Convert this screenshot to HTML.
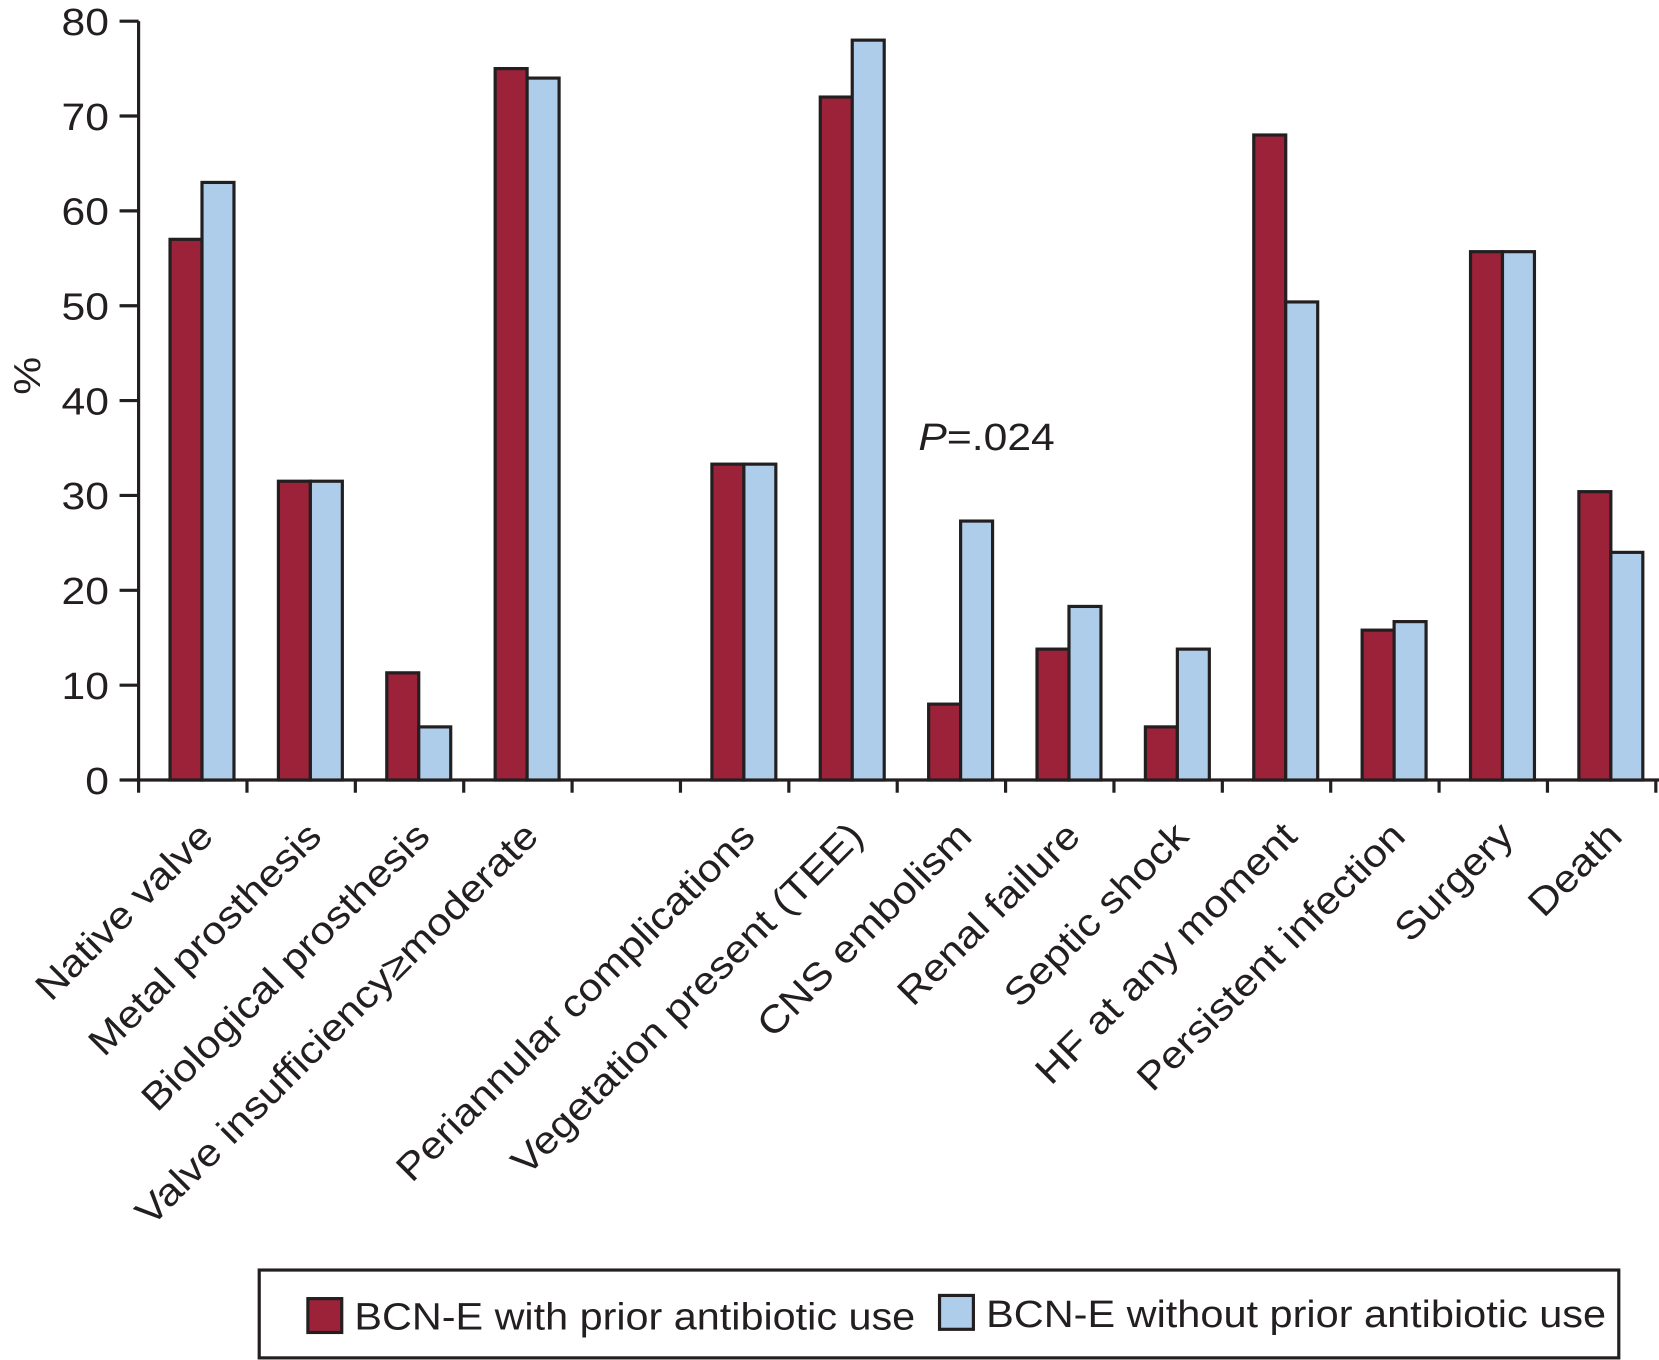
<!DOCTYPE html>
<html><head><meta charset="utf-8"><style>
html,body{margin:0;padding:0;background:#fff}
svg{display:block;font-family:"Liberation Sans",sans-serif}
</style></head><body>
<svg id="chart" width="1659" height="1360" viewBox="0 0 1568 1285" preserveAspectRatio="none" xmlns="http://www.w3.org/2000/svg">
<g id="axes"></g>
<g id="bars"></g>
<g id="xlabels"></g>
<text x="0" y="0" font-size="36" fill="#231f20" text-anchor="middle" transform="translate(38,355) rotate(-90) scale(1.12,1)">%</text>
<text x="0" y="0" font-size="36" fill="#231f20" transform="translate(868,425) scale(1.12,1)"><tspan font-style="italic">P</tspan>=.024</text>
<g>
<rect x="245" y="1200" width="1285" height="83" fill="#fff" stroke="#231f20" stroke-width="3"/>
<rect x="291" y="1227" width="32" height="32" fill="#9b2239" stroke="#231f20" stroke-width="3"/>
<text x="335" y="1256" font-size="36" fill="#231f20" textLength="530" lengthAdjust="spacingAndGlyphs">BCN-E with prior antibiotic use</text>
<rect x="888" y="1224" width="32" height="32" fill="#aecdea" stroke="#231f20" stroke-width="3"/>
<text x="932" y="1254" font-size="36" fill="#231f20" textLength="586" lengthAdjust="spacingAndGlyphs">BCN-E without prior antibiotic use</text>
</g>
</svg>
<script>
const categories = ["Native valve","Metal prosthesis","Biological prosthesis","Valve insufficiency\u2265moderate","","Periannular complications","Vegetation present (TEE)","CNS embolism","Renal failure","Septic shock","HF at any moment","Persistent infection","Surgery","Death"];
const withAbx = [57,31.5,11.3,75,null,33.3,72,8,13.8,5.6,68,15.8,55.7,30.4];
const withoutAbx = [63,31.5,5.6,74,null,33.3,78,27.3,18.3,13.8,50.4,16.7,55.7,24];
const yTicks = [0,10,20,30,40,50,60,70,80];

const NS = "http://www.w3.org/2000/svg";
const X0 = 131, X1 = 1565, Y0 = 737, Y80 = 20;
const step = (X1 - X0) / categories.length;
const yS = v => Y0 - (v / 80) * (Y0 - Y80);
const xS = i => X0 + i * step;
function mk(tag, attrs, parent){ const e=document.createElementNS(NS,tag); for(const k in attrs) e.setAttribute(k,attrs[k]); parent.appendChild(e); return e; }
const axes=document.getElementById('axes'), bars=document.getElementById('bars'), xl=document.getElementById('xlabels');
const stroke="#231f20";
let e = mk('line',{x1:X0,y1:Y80,x2:X0,y2:Y0,stroke:stroke,'stroke-width':3},axes);


e = mk('line',{x1:X0-2,y1:Y0,x2:X1+3,y2:Y0,stroke:stroke,'stroke-width':3},axes);


yTicks.forEach(t=>{
  const y=yS(t);
  const l=mk('line',{x1:X0-18,y1:y,x2:X0,y2:y,stroke:stroke,'stroke-width':3},axes);
  
  
  const tx=mk('text',{x:0,y:0,'font-size':36,'text-anchor':'end',fill:stroke,transform:`translate(103,${y+13}) scale(1.12,1)`},axes);
  tx.textContent=t;
  
  
});
for(let i=0;i<=categories.length;i++){
  const x=xS(i);
  const l=mk('line',{x1:x,y1:Y0,x2:x,y2:Y0+12,stroke:stroke,'stroke-width':3},axes);
  
  
}
categories.forEach((c,i)=>{
  const left=xS(i)+step*0.29, bw=step*0.295;
  if(withAbx[i]!=null){
    const r=mk('rect',{x:left,y:yS(withAbx[i]),width:bw,height:Y0-yS(withAbx[i]),fill:'#9b2239',stroke:stroke,'stroke-width':3},bars);
    
    
  }
  if(withoutAbx[i]!=null){
    const r=mk('rect',{x:left+bw,y:yS(withoutAbx[i]),width:bw,height:Y0-yS(withoutAbx[i]),fill:'#aecdea',stroke:stroke,'stroke-width':3},bars);
    
    
  }
  if(c){
    const cx=xS(i)+step*0.59+12, cy=792;
    const t=mk('text',{x:0,y:0,'font-size':36,'text-anchor':'end',fill:stroke,transform:`translate(${cx},${cy}) rotate(-45) scale(1.12,1)`},xl);
    t.textContent=c;
    
    
  }
});
</script>
</body></html>
